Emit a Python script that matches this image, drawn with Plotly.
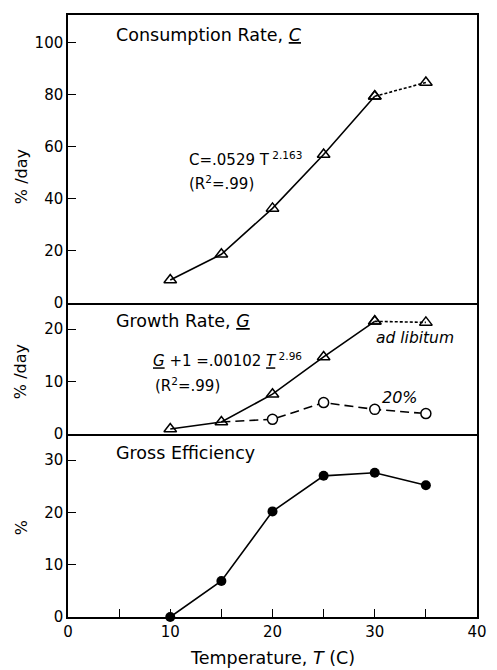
import plotly.graph_objects as go
from plotly.subplots import make_subplots

# Data
temp = [10, 15, 20, 25, 30, 35]
consumption = [8.8, 18.7, 36.3, 57.0, 79.3, 84.6]
growth_adlib = [0.95, 2.3, 7.6, 14.7, 21.5, 21.3]
temp_20 = [15, 20, 25, 30, 35]
growth_20 = [2.3, 2.8, 6.0, 4.7, 3.9]
efficiency = [0.0, 6.9, 20.2, 27.0, 27.6, 25.2]

x_tickvals = [0, 10, 20, 30, 40]
x_ticktext = ["0", "10", "20", "30", "40"]

FONT = "DejaVu Sans"
BLACK = "black"
LW = 1.6

fig = make_subplots(rows=3, cols=1, shared_xaxes=True, vertical_spacing=0,
                    row_heights=[288, 131, 183])

tri = dict(symbol="triangle-up-open", size=11, color=BLACK, line=dict(width=1.5, color=BLACK))

# Consumption (fit portion solid, last segment dashed)
fig.add_trace(go.Scatter(x=temp[:5], y=consumption[:5], mode="lines+markers",
                         line=dict(color=BLACK, width=LW), marker=tri), row=1, col=1)
fig.add_trace(go.Scatter(x=temp[4:], y=consumption[4:], mode="lines+markers",
                         line=dict(color=BLACK, width=LW, dash="3px,2px"), marker=tri), row=1, col=1)

# Growth ad libitum
fig.add_trace(go.Scatter(x=temp[:5], y=growth_adlib[:5], mode="lines+markers",
                         line=dict(color=BLACK, width=LW), marker=tri), row=2, col=1)
fig.add_trace(go.Scatter(x=temp[4:], y=growth_adlib[4:], mode="lines+markers",
                         line=dict(color=BLACK, width=LW, dash="3px,2px"), marker=tri), row=2, col=1)
# Growth 20%
fig.add_trace(go.Scatter(x=temp_20, y=growth_20, mode="lines",
                         line=dict(color=BLACK, width=LW, dash="9px,5px")), row=2, col=1)
fig.add_trace(go.Scatter(x=temp_20[1:], y=growth_20[1:], mode="markers",
                         marker=dict(symbol="circle", size=10, color="white",
                                     line=dict(width=1.5, color=BLACK))), row=2, col=1)

# Gross efficiency
fig.add_trace(go.Scatter(x=temp, y=efficiency, mode="lines+markers",
                         line=dict(color=BLACK, width=LW),
                         marker=dict(symbol="circle", size=10, color=BLACK),
                         cliponaxis=False), row=3, col=1)

axis_common = dict(showline=True, linecolor=BLACK, linewidth=1.5,
                   showgrid=False, zeroline=False, ticks="inside", ticklen=8,
                   tickwidth=1.3, tickcolor=BLACK,
                   tickfont=dict(family=FONT, size=15, color=BLACK))

for r in (1, 2, 3):
    fig.update_xaxes(range=[0, 40], mirror=(r == 1), **axis_common, row=r, col=1)
fig.update_xaxes(ticks="", showticklabels=False, row=1, col=1)
fig.update_xaxes(ticks="", showticklabels=False, row=2, col=1)
fig.update_xaxes(tickvals=x_tickvals, ticktext=x_ticktext,
                 minor=dict(ticks="inside", ticklen=8, tickwidth=1.3, tickcolor=BLACK,
                            tick0=0, dtick=5, showgrid=False),
                 row=3, col=1)

fig.update_yaxes(range=[0, 110.5], tickvals=[0, 20, 40, 60, 80, 100], mirror=True,
                 **axis_common, row=1, col=1)
fig.update_yaxes(range=[0, 25], tickvals=[0, 10, 20], mirror=True, **axis_common, row=2, col=1)
fig.update_yaxes(range=[0, 35], tickvals=[0, 10, 20, 30], mirror=True, **axis_common, row=3, col=1)

W, H = 497, 670
L, R, T, B = 68, 10, 15, 53
pw, ph = W - L - R, H - T - B


def px(x):
    return (x - L) / pw


def py(y):
    return (H - B - y) / ph


def ann(text, x, y, size=16, xanchor="left", angle=0):
    fig.add_annotation(text=text, xref="paper", yref="paper", x=px(x), y=py(y),
                       xanchor=xanchor, yanchor="middle", showarrow=False,
                       textangle=angle,
                       font=dict(family=FONT, size=size, color=BLACK))


ann("Consumption Rate, <u><i>C</i></u>", 115, 35, 17.5)
ann("C=.0529 T<sup> 2.163</sup>", 190, 159, 15)
ann("(R<sup>2</sup>=.99)", 190, 183, 15)
ann("Growth Rate, <u><i>G</i></u>", 115, 321, 17.5)
ann("<u><i>G</i></u> +1 =.00102 <u><i>T</i></u><sup> 2.96</sup>", 153, 360, 15)
ann("(R<sup>2</sup>=.99)", 155, 385, 15)
ann("<i>ad libitum</i>", 381, 338, 15.5)
ann("<i>20%</i>", 388, 397, 16)
ann("Gross Efficiency", 115, 453, 17.5)
ann("% /day", 20, 177, 16, xanchor="center", angle=-90)
ann("% /day", 20, 372, 16, xanchor="center", angle=-90)
ann("%", 20, 528, 16, xanchor="center", angle=-90)
ann("Temperature, <i>T</i> (C)", 277, 658, 17.5, xanchor="center")

fig.update_layout(width=W, height=H, margin=dict(l=L, r=R, t=T, b=B),
                  showlegend=False, plot_bgcolor="white", paper_bgcolor="white")

fig.write_html("out.html")
